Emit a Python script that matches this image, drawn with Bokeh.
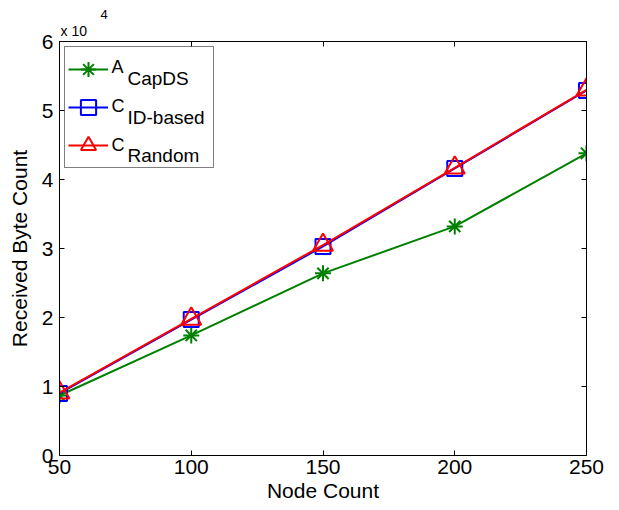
from bokeh.plotting import figure
from bokeh.models import Range1d, FixedTicker, LinearAxis, Legend, LegendItem, Label, Title
from bokeh.embed import file_html
from bokeh.resources import INLINE

# ---- data ----
node_count = [50, 100, 150, 200, 250]
a_capds = [8700, 17400, 26400, 33200, 43800]
c_id_based = [9000, 19700, 30300, 41600, 52900]
c_random = [9100, 19800, 30500, 41700, 53000]

x_ticks = [50, 100, 150, 200, 250]
y_ticks = [0, 10000, 20000, 30000, 40000, 50000, 60000]
y_tick_labels = ["0", "1", "2", "3", "4", "5", "6"]

series_names = ["A", "C", "C"]
series_subs = ["CapDS", "ID-based", "Random"]

FONT = "Liberation Sans"
GREEN = "#008000"
BLUE = "#0000FF"
RED = "#FF0000"

p = figure(width=619, height=510, output_backend="svg", toolbar_location=None,
           x_range=Range1d(50, 250), y_range=Range1d(0, 60000),
           min_border_left=59, min_border_right=33, min_border_top=41,
           min_border_bottom=55, title="4",
           x_axis_label="Node Count", y_axis_label="Received Byte Count")
p.background_fill_color = "white"
p.border_fill_color = "white"
p.outline_line_color = None
p.xgrid.grid_line_color = None
p.ygrid.grid_line_color = None


def style_axis(ax, ticks, show_labels=True):
    ax.ticker = FixedTicker(ticks=ticks)
    ax.major_tick_in = 5
    ax.major_tick_out = 0
    ax.minor_tick_in = 0
    ax.minor_tick_out = 0
    ax.minor_tick_line_color = None
    ax.axis_line_color = "black"
    ax.axis_line_width = 1
    ax.major_tick_line_color = "black"
    ax.major_label_text_font = FONT
    ax.axis_label_text_font = FONT
    ax.axis_label_text_font_style = "normal"
    ax.axis_label_text_font_size = "21px"
    ax.axis_label_text_color = "black"
    ax.major_label_text_color = "black"
    if show_labels:
        ax.major_label_text_font_size = "21px"
    else:
        ax.major_label_text_font_size = "0px"
        ax.major_label_text_color = None
        ax.major_label_standoff = 0


xa = p.xaxis[0]
ya = p.yaxis[0]
style_axis(xa, x_ticks)
style_axis(ya, y_ticks)
ya.major_label_overrides = {t: l for t, l in zip(y_ticks, y_tick_labels)}
xa.major_label_standoff = 4
ya.major_label_standoff = 6
xa.axis_label_standoff = 2
ya.axis_label_standoff = 8

right_ax = LinearAxis()
style_axis(right_ax, y_ticks, show_labels=False)
p.add_layout(right_ax, "right")
top_ax = LinearAxis()
style_axis(top_ax, x_ticks, show_labels=False)
p.add_layout(top_ax, "above")

# exponent annotation "x 10^4" (two title rows above the frame)
p.title.align = "left"
p.title.offset = 41
p.title.standoff = 0
p.title.text_font = FONT
p.title.text_font_size = "13px"
p.title.text_font_style = "normal"
p.title.text_color = "black"
exp_title = Title(text="x 10", align="left", offset=1, standoff=5,
                  text_font=FONT, text_font_size="14px",
                  text_font_style="normal", text_color="black")
p.add_layout(exp_title, "above")

# ---- series ----
l1 = p.line(node_count, a_capds, line_color=GREEN, line_width=2)
m1 = p.scatter(node_count, a_capds, marker="asterisk", size=16,
               line_color=GREEN, line_width=2)
l2 = p.line(node_count, c_id_based, line_color=BLUE, line_width=2)
m2 = p.scatter(node_count, c_id_based, marker="square", size=15,
               line_color=BLUE, fill_color=None, line_width=2)
l3 = p.line(node_count, c_random, line_color=RED, line_width=2)
m3 = p.scatter(node_count, c_random, marker="triangle", size=20,
               line_color=RED, fill_color=None, line_width=2)

legend = Legend(items=[
    LegendItem(label=" ", renderers=[l1, m1]),
    LegendItem(label=" ", renderers=[l2, m2]),
    LegendItem(label=" ", renderers=[l3, m3]),
], location="top_left")
legend.margin = 5
legend.padding = 3
legend.spacing = 0
legend.glyph_height = 38
legend.glyph_width = 40
legend.label_height = 38
legend.label_width = 98
legend.label_standoff = 4
legend.label_text_font = FONT
legend.label_text_font_size = "18px"
legend.label_text_color = "black"
legend.border_line_color = "black"
legend.border_line_width = 1
legend.background_fill_color = None
legend.background_fill_alpha = 0.0
p.add_layout(legend)

# legend texts: main letter and its subscript
main_offsets = [-25, -64, -103]
sub_offsets = [-37, -76, -114]
for name, sub, yo_m, yo_s in zip(series_names, series_subs, main_offsets, sub_offsets):
    p.add_layout(Label(x=50, y=60000, x_offset=52, y_offset=yo_m, text=name,
                       text_font=FONT, text_font_size="18px",
                       text_baseline="alphabetic", text_color="black"))
    p.add_layout(Label(x=50, y=60000, x_offset=68, y_offset=yo_s, text=sub,
                       text_font=FONT, text_font_size="19px",
                       text_baseline="alphabetic", text_color="black"))

open("out.html", "w").write(file_html(p, INLINE))
